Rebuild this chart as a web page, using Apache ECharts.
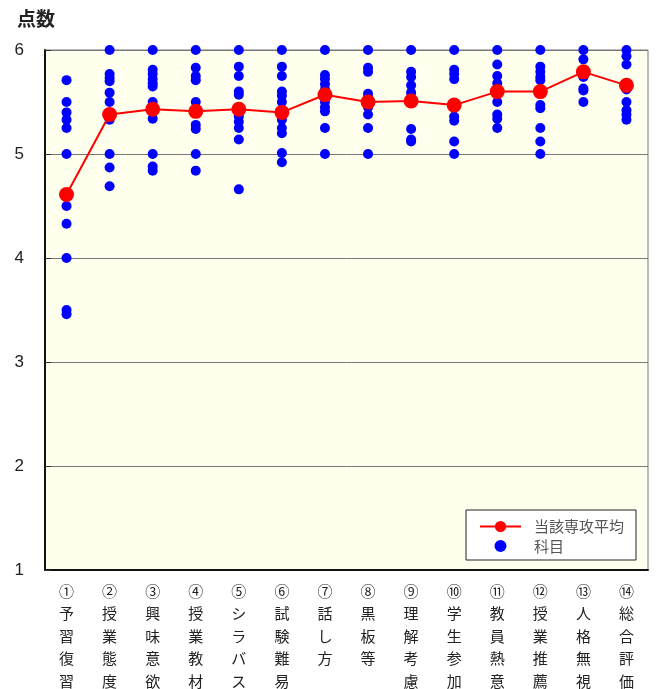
<!DOCTYPE html>
<html><head><meta charset="utf-8">
<script src="https://cdn.jsdelivr.net/npm/echarts@6/dist/echarts.min.js"></script>
<style>html,body{margin:0;padding:0;background:#fff}#c{width:656px;height:689px}</style>
</head><body><div id="c"></div>
<script>
const categories = ['①\n予\n習\n復\n習','②\n授\n業\n態\n度','③\n興\n味\n意\n欲','④\n授\n業\n教\n材','⑤\nシ\nラ\nバ\nス','⑥\n試\n験\n難\n易','⑦\n話\nし\n方','⑧\n黒\n板\n等','⑨\n理\n解\n考\n慮','⑩\n学\n生\n参\n加','⑪\n教\n員\n熱\n意','⑫\n授\n業\n推\n薦','⑬\n人\n格\n無\n視','⑭\n総\n合\n評\n価'];
const majorAverage = [4.61, 5.38, 5.43, 5.41, 5.43, 5.40, 5.57, 5.50, 5.51, 5.47, 5.60, 5.60, 5.79, 5.66];
const subjectScores = [
  [5.71, 5.50, 5.40, 5.33, 5.25, 5.00, 4.50, 4.33, 4.00, 3.50, 3.46],
  [6.00, 5.77, 5.73, 5.70, 5.59, 5.50, 5.33, 5.00, 4.87, 4.69],
  [6.00, 5.81, 5.77, 5.72, 5.68, 5.65, 5.50, 5.34, 5.00, 4.88, 4.84],
  [6.00, 5.83, 5.75, 5.71, 5.50, 5.28, 5.24, 5.00, 4.84],
  [6.00, 5.84, 5.75, 5.60, 5.57, 5.36, 5.31, 5.25, 5.14, 4.66],
  [6.00, 5.84, 5.75, 5.60, 5.56, 5.50, 5.33, 5.25, 5.20, 5.01, 4.92],
  [6.00, 5.76, 5.72, 5.67, 5.62, 5.50, 5.45, 5.41, 5.25, 5.00],
  [6.00, 5.83, 5.79, 5.58, 5.54, 5.45, 5.38, 5.25, 5.00],
  [6.00, 5.79, 5.74, 5.66, 5.59, 5.24, 5.14, 5.12],
  [6.00, 5.81, 5.77, 5.72, 5.45, 5.36, 5.32, 5.12, 5.00],
  [6.00, 5.86, 5.75, 5.68, 5.50, 5.38, 5.34, 5.25],
  [6.00, 5.84, 5.79, 5.74, 5.71, 5.47, 5.44, 5.25, 5.12, 5.00],
  [6.00, 5.91, 5.74, 5.63, 5.61, 5.50],
  [6.00, 5.94, 5.86, 5.62, 5.50, 5.42, 5.38, 5.33]
];
const yTicks = [1, 2, 3, 4, 5, 6];

const scatterData = [];
subjectScores.forEach((arr, i) => arr.forEach(v => scatterData.push([i, v])));

const chart = echarts.init(document.getElementById('c'));
chart.setOption({
  animation: false,
  backgroundColor: '#fff',
  title: { text: '点数', left: 12, top: 4, textStyle: { fontSize: 19, fontWeight: 'bold', color: '#222', fontFamily: '"Noto Sans CJK JP", sans-serif' } },
  grid: { left: 45, top: 50, width: 603, height: 520, show: true, backgroundColor: '#FFFFEE', borderColor: '#777', borderWidth: 1, containLabel: false, outerBoundsMode: 'none' },
  legend: {
    orient: 'vertical', left: 466, top: 510,
    backgroundColor: '#fff', borderColor: '#222', borderWidth: 1,
    padding: [9, 12, 6, 13], itemGap: 4, itemWidth: 41, itemHeight: 14,
    textStyle: { fontSize: 15, color: '#555', fontFamily: '"Noto Sans CJK JP", sans-serif', padding: [0, 0, 0, 8] },
    data: [{ name: '当該専攻平均' }, { name: '科目', itemStyle: { color: '#0000FF', borderColor: '#fff', borderWidth: 2 } }]
  },
  xAxis: {
    type: 'category', data: categories, boundaryGap: true,
    axisLine: { lineStyle: { color: '#111', width: 2 } },
    axisTick: { inside: true, length: 6, lineStyle: { color: '#333' }, alignWithLabel: false },
    axisLabel: { interval: 0, fontSize: 15, lineHeight: 22.5, color: '#222', margin: 10, verticalAlign: 'top', fontFamily: '"Noto Sans CJK JP", sans-serif' },
    splitLine: { show: false }
  },
  yAxis: {
    type: 'value', min: 1, max: 6, interval: 1,
    axisLine: { show: true, lineStyle: { color: '#111', width: 2 } },
    axisTick: { show: true, inside: true, length: 6, lineStyle: { color: '#333' } },
    axisLabel: { fontSize: 17, color: '#222', margin: 21, fontFamily: 'Arial, "Liberation Sans", sans-serif',
      formatter: v => yTicks.includes(v) ? String(v) : '' },
    splitLine: { show: true, lineStyle: { color: '#777', width: 1 } }
  },
  series: [
    { name: '科目', type: 'scatter', data: scatterData, symbolSize: 10, itemStyle: { color: '#0000FF', opacity: 1 }, z: 2 },
    { name: '当該専攻平均', type: 'line', data: majorAverage, symbol: 'circle', symbolSize: 15,
      lineStyle: { color: '#FF0000', width: 2 }, itemStyle: { color: '#FF0000' }, z: 3 }
  ]
});
</script></body></html>
